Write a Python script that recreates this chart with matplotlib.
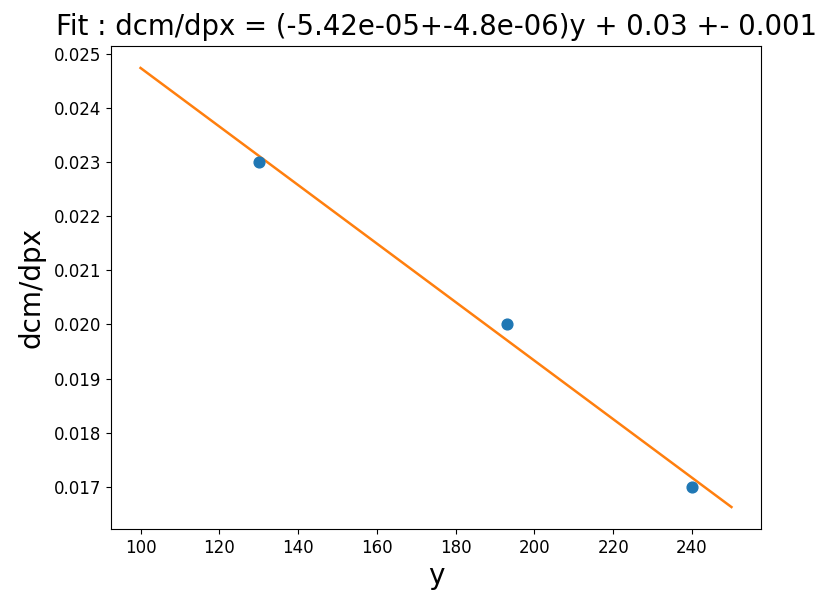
import matplotlib
matplotlib.use("Agg")
import matplotlib.pyplot as plt
import numpy as np

y_pos = [130, 193, 240]
dcm_dpx = [0.023, 0.020, 0.017]
slope = -5.42e-05
intercept = 0.03017
fit_range = [100, 250]

fig = plt.figure(figsize=(8.17, 5.98), dpi=100)
ax = fig.add_axes([111/817, (598-529)/598, (761-111)/817, (529-46)/598])
ax.scatter(y_pos, dcm_dpx, s=60, color='#1f77b4', zorder=3)
xs = np.array(fit_range)
ax.plot(xs, slope * xs + intercept, color='#ff7f0e', lw=1.8)
ax.set_xticks(np.arange(100, 241, 20))
ax.set_yticks(np.arange(0.017, 0.0251, 0.001))
ax.tick_params(labelsize=12)
ax.set_xlabel('y', fontsize=20)
ax.set_ylabel('dcm/dpx', fontsize=20, labelpad=6)
ax.set_title('Fit : dcm/dpx = (-5.42e-05+-4.8e-06)y + 0.03 +- 0.001', fontsize=19.8, pad=8)
fig.savefig('out.png', dpi=100)
